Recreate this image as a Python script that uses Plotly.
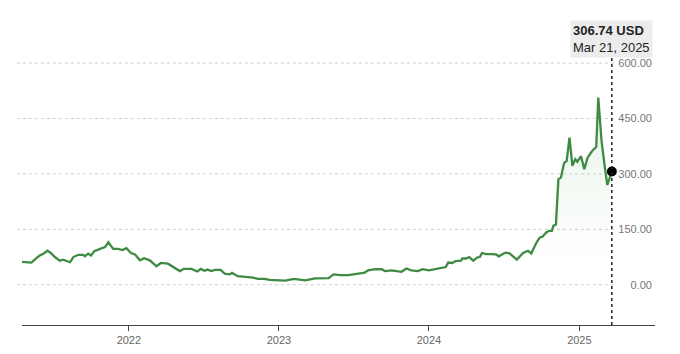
import plotly.graph_objects as go

dates = [
    "2021-04-16", "2021-05-09", "2021-05-21", "2021-05-29", "2021-06-07", "2021-06-17",
    "2021-06-25", "2021-07-05", "2021-07-17", "2021-07-25", "2021-08-11", "2021-08-19",
    "2021-08-31", "2021-09-12", "2021-09-16", "2021-09-24", "2021-10-01", "2021-10-09",
    "2021-10-23", "2021-11-04", "2021-11-12", "2021-11-24", "2021-12-06", "2021-12-16",
    "2021-12-26", "2022-01-06", "2022-01-16", "2022-01-28", "2022-02-07", "2022-02-21",
    "2022-03-09", "2022-03-20", "2022-04-06", "2022-04-22", "2022-05-05", "2022-05-15",
    "2022-06-02", "2022-06-17", "2022-06-25", "2022-07-04", "2022-07-11", "2022-07-21",
    "2022-07-29", "2022-08-12", "2022-08-22", "2022-09-03", "2022-09-09", "2022-09-23",
    "2022-10-14", "2022-10-30", "2022-11-11", "2022-11-27", "2022-12-10", "2022-12-30",
    "2023-01-17", "2023-02-06", "2023-03-06", "2023-03-30", "2023-05-02", "2023-05-14",
    "2023-05-30", "2023-06-19", "2023-07-09", "2023-07-29", "2023-08-06", "2023-08-23",
    "2023-09-08", "2023-09-16", "2023-10-02", "2023-10-26", "2023-11-07", "2023-11-19",
    "2023-12-05", "2023-12-17", "2024-01-01", "2024-01-17", "2024-02-02", "2024-02-11",
    "2024-02-17", "2024-02-27", "2024-03-06", "2024-03-19", "2024-03-22", "2024-03-31",
    "2024-04-08", "2024-04-18", "2024-04-28", "2024-05-04", "2024-05-09", "2024-05-19",
    "2024-05-31", "2024-06-12", "2024-06-19", "2024-07-05", "2024-07-15", "2024-08-02",
    "2024-08-17", "2024-08-29", "2024-09-06", "2024-09-19", "2024-09-27", "2024-10-03",
    "2024-10-13", "2024-10-20", "2024-10-26", "2024-10-30", "2024-11-05", "2024-11-11",
    "2024-11-17", "2024-11-25", "2024-12-01", "2024-12-08", "2024-12-15", "2024-12-22",
    "2024-12-27", "2025-01-05", "2025-01-13", "2025-01-21", "2025-02-01", "2025-02-11",
    "2025-02-16", "2025-02-24", "2025-03-04", "2025-03-10", "2025-03-21",
]
prices = [
    62, 60, 72, 79, 84, 92,
    86, 75, 65, 68, 61, 75,
    81, 81, 77, 84, 79, 91,
    97, 102, 115, 97, 97, 94,
    99, 86, 82, 66, 72, 66,
    50, 59, 57, 45, 37, 43,
    43, 36, 43, 38, 41, 37,
    40, 40, 30, 28, 32, 23,
    21, 19, 16, 16, 13, 12,
    11, 16, 12, 17, 18, 28,
    26, 26, 30, 33, 39, 42,
    42, 37, 39, 35, 44, 39,
    37, 42, 39, 42, 46, 48,
    60, 59, 64, 65, 71, 71,
    75, 65, 74, 75, 86, 83,
    83, 82, 77, 87, 85, 68,
    86, 92, 85, 115, 128, 130,
    142, 146, 146, 160, 163, 286,
    290, 330, 335, 398, 322, 340,
    333, 348, 313, 344, 362, 373,
    507, 389, 317, 270, 306.74,
]
y_ticks = [0, 150, 300, 450, 600]
x_ticks = ["2022-01-01", "2023-01-01", "2024-01-01", "2025-01-01"]
last_label = "<b>306.74 USD</b><br>Mar 21, 2025"

GREEN = "#3f8b43"
fig = go.Figure()
fig.add_trace(go.Scatter(
    x=dates, y=prices, mode="lines",
    line=dict(color=GREEN, width=2.3),
    fill="tozeroy",
    fillgradient=dict(type="vertical", start=60, stop=520,
                      colorscale=[[0, "rgba(90,170,90,0)"], [1, "rgba(90,170,90,0.14)"]]),
    hoverinfo="skip",
))
fig.add_trace(go.Scatter(
    x=[dates[-1]], y=[prices[-1]], mode="markers",
    marker=dict(color="black", size=10),
    hoverinfo="skip",
))

for v in y_ticks:
    fig.add_shape(type="line", xref="paper", yref="y", x0=-0.008, x1=0.935, y0=v, y1=v,
                  line=dict(color="#cfcfcf", width=1, dash="dot"), layer="below")

fig.add_shape(type="line", xref="x", yref="paper", x0=dates[-1], x1=dates[-1], y0=0, y1=1,
              line=dict(color="#222", width=1.5, dash="dot"))

fig.add_annotation(x=dates[-1], xref="x", y=1.06, yref="paper", text=last_label,
                   showarrow=False, xanchor="center", yanchor="middle", align="left",
                   font=dict(family="Liberation Sans, Arial", size=13, color="#222"),
                   bgcolor="#ececec", borderpad=2)

fig.update_layout(
    width=680, height=354,
    margin=dict(l=22, r=25, t=55, b=29),
    paper_bgcolor="white", plot_bgcolor="white",
    showlegend=False,
    font=dict(family="Liberation Sans, Arial"),
    xaxis=dict(
        range=["2021-04-16", "2025-07-04"],
        tickvals=x_ticks, tickformat="%Y",
        showgrid=False, zeroline=False, automargin=False,
        showline=True, linecolor="#444", linewidth=1,
        ticks="outside", ticklen=5, tickcolor="#444",
        tickfont=dict(size=11, color="#666"),
    ),
    yaxis=dict(
        range=[-109, 622],
        side="right", ticklabelposition="inside", automargin=False,
        tickvals=y_ticks, tickformat=".2f",
        showgrid=False, zeroline=False, showline=False,
        tickfont=dict(size=11, color="#777"),
    ),
)

fig.write_html("out.html")
